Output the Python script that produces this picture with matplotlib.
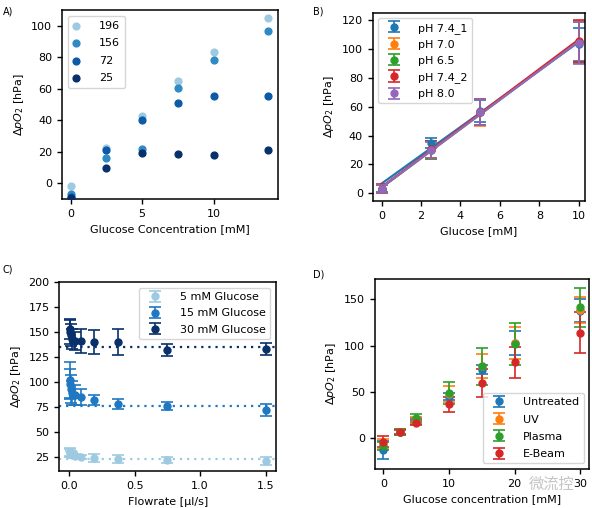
import matplotlib.pyplot as plt
import numpy as np

plt.rcParams['font.size'] = 8
plt.rcParams['axes.linewidth'] = 1.1

# A) response for different layer thickness
conc_a = [0, 2.5, 5, 7.5, 10, 13.8]
a_labels = ['196', '156', '72', '25']
a_196 = [-1.7, 22.3, 43, 64.8, 83.6, 104.7]
a_156 = [-7, 16, 22, 60.5, 78, 96.4]
a_72 = [-8.5, 20.8, 40, 50.7, 55.2, 55.6]
a_25 = [-9.5, 9.8, 19.3, 18.5, 17.8, 21.2]
a_colors = ['#9ecae1', '#2f8ac4', '#0d5aa7', '#08306b']

# B) pH dependency
conc_b = [0, 2.5, 5, 10]
ph_labels = ['pH 7.4_1', 'pH 7.0', 'pH 6.5', 'pH 7.4_2', 'pH 8.0']
ph_vals = [
    [3.2, 35, 57.2, 103],
    [3.0, 30, 56, 105],
    [3.0, 30, 56, 104.5],
    [3.3, 30.5, 56.5, 105.7],
    [3.0, 30, 56, 104.3],
]
ph_err = [
    [2.5, 3.5, 7.5, 11.5],
    [3.0, 6, 9.5, 14.5],
    [2.5, 6, 9, 14],
    [3.0, 6, 9, 14.5],
    [2.5, 5.5, 9, 14.5],
]
ph_colors = ['#1f77b4', '#ff7f0e', '#2ca02c', '#d62728', '#9467bd']

# C) flowrate dependency
flowrate = [0.003, 0.006, 0.012, 0.023, 0.047, 0.094, 0.19, 0.375, 0.75, 1.5]
c_labels = ['5 mM Glucose', '15 mM Glucose', '30 mM Glucose']
c_5 = [30, 29, 28, 27, 26, 25, 24, 23, 22, 21]
c_5_err = [4, 4, 3, 3, 2, 2, 4, 4, 3, 4]
c_15 = [102, 98, 93, 89, 87, 85, 82, 78, 76, 72]
c_15_err = [18, 15, 14, 12, 10, 8, 5, 5, 4, 6]
c_30 = [153, 150, 147, 143, 141, 141, 140, 140, 132, 133]
c_30_err = [10, 12, 11, 10, 9, 12, 12, 13, 6, 6]
c_levels = [23, 76, 135]
c_colors = ['#9ecae1', '#1f78c1', '#08306b']

# D) sterilisation
conc_d = [0, 2.5, 5, 10, 15, 20, 30]
d_labels = ['Untreated', 'UV', 'Plasma', 'E-Beam']
d_vals = [
    [-12.5, 7, 19, 45, 74, 103, 138],
    [-6, 7, 20, 48, 78, 103, 139],
    [-8, 7, 22, 49, 78, 102, 141.4],
    [-3.5, 7, 17, 37, 60, 82, 114],
]
d_err = [
    [10, 3, 3, 4, 5, 12.5, 12],
    [5, 3, 3, 9, 13, 17, 14],
    [4, 3, 4, 12, 20, 23, 21],
    [6, 2, 3, 8, 15, 17, 22],
]
d_colors = ['#1f77b4', '#ff7f0e', '#2ca02c', '#d62728']

ylab = r'$\Delta pO_2$ [hPa]'

fig = plt.figure(figsize=(5.92, 5.08), dpi=100)
axA = fig.add_axes([0.1047, 0.6083, 0.365, 0.372])
axB = fig.add_axes([0.6296, 0.6043, 0.358, 0.3707])
axC = fig.add_axes([0.1002, 0.0722, 0.366, 0.372])
axD = fig.add_axes([0.633, 0.0768, 0.3625, 0.374])

# panel A
for vals, lab, col in zip([a_196, a_156, a_72, a_25], a_labels, a_colors):
    axA.scatter(conc_a, vals, s=24, color=col, label=lab, zorder=3)
axA.set_xlim(-0.6, 14.5)
axA.set_ylim(-10, 110)
axA.set_yticks(range(0, 101, 20))
axA.set_xticks([0, 5, 10])
axA.set_xlabel('Glucose Concentration [mM]')
axA.set_ylabel(ylab)
axA.legend(loc='upper left', scatterpoints=1, handlelength=0.6,
           handletextpad=1.7, labelspacing=0.65, borderpad=0.5)

# panel B
xfit = np.array([0, 10])
for vals, err, lab, col in zip(ph_vals, ph_err, ph_labels, ph_colors):
    k, d = np.polyfit(conc_b, vals, 1)
    axB.plot(xfit, k * xfit + d, color=col, lw=1.6)
    axB.errorbar(conc_b, vals, yerr=err, fmt='o', ms=5, color=col,
                 capsize=4, elinewidth=1.2, capthick=1.2, label=lab)
axB.set_xlim(-0.45, 10.3)
axB.set_ylim(-5.3, 125)
axB.set_yticks(range(0, 121, 20))
axB.set_xticks(range(0, 11, 2))
axB.set_xlabel('Glucose [mM]')
axB.set_ylabel(ylab)
axB.legend(loc='upper left', handletextpad=1.2, labelspacing=0.55)

# panel C
for vals, err, lab, col, lev in zip([c_5, c_15, c_30], [c_5_err, c_15_err, c_30_err],
                                    c_labels, c_colors, c_levels):
    axC.axhline(lev, color=col, ls=(0, (1, 2.2)), lw=1.6)
    axC.errorbar(flowrate, vals, yerr=err, fmt='o', ms=5, color=col,
                 capsize=4, elinewidth=1.2, capthick=1.2, label=lab)
axC.set_xlim(-0.075, 1.58)
axC.set_ylim(11, 200)
axC.set_yticks(range(25, 201, 25))
axC.set_xticks([0.0, 0.5, 1.0, 1.5])
axC.set_xlabel('Flowrate [µl/s]')
axC.set_ylabel(ylab)
axC.legend(loc='upper right', handletextpad=1.3, labelspacing=0.55)

# panel D
for vals, err, lab, col in zip(d_vals, d_err, d_labels, d_colors):
    axD.errorbar(conc_d, vals, yerr=err, fmt='o', ms=5, color=col,
                 capsize=4, elinewidth=1.2, capthick=1.2, label=lab)
axD.set_xlim(-1.3, 31.4)
axD.set_ylim(-33, 172)
axD.set_yticks([0, 50, 100, 150])
axD.set_xticks([0, 10, 20, 30])
axD.set_xlabel('Glucose concentration [mM]')
axD.set_ylabel(ylab)
axD.legend(loc='lower right', handletextpad=1.2, labelspacing=0.65)

for ax in [axA, axB, axC, axD]:
    ax.tick_params(labelsize=8, width=1.0, length=3.5)

fig.text(0.005, 0.988, 'A)', fontsize=7, va='top')
fig.text(0.528, 0.988, 'B)', fontsize=7, va='top')
fig.text(0.005, 0.480, 'C)', fontsize=7, va='top')
fig.text(0.528, 0.470, 'D)', fontsize=7, va='top')

# watermark
fig.text(0.893, 0.047, '微流控', fontsize=11, color='#c4c4c4',
         family=['Noto Sans CJK SC', 'DejaVu Sans'], va='center')

fig.savefig('out.png', dpi=100)
